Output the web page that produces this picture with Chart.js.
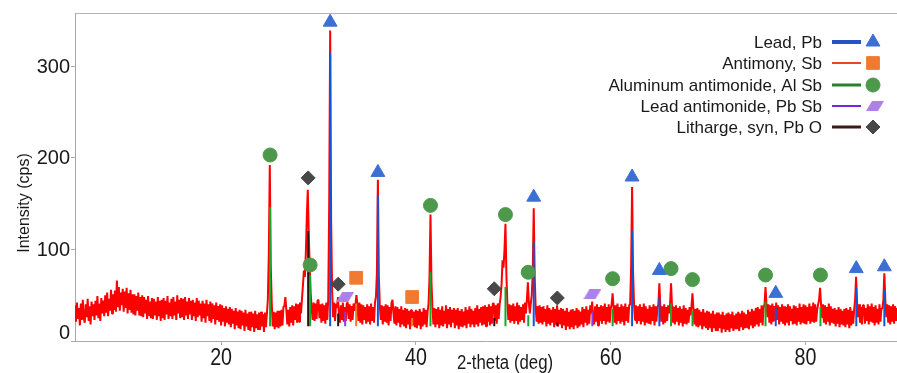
<!DOCTYPE html>
<html><head><meta charset="utf-8">
<script src="https://cdn.jsdelivr.net/npm/chart.js@4"></script>
<style>html,body{margin:0;padding:0;background:#fff;overflow:hidden}#wrap{width:897px;height:373px;position:relative}</style>
</head><body><div id="wrap"><canvas id="c" width="897" height="373"></canvas></div>
<script>
// ---- data ----
const twoThetaStart = 5.0;
const twoThetaStep = 0.1;
const intensity = [
39,21,42,24,36,17,41,23,45,25,
20,40,26,46,22,38,18,43,27,40,
23,44,28,49,25,41,22,47,30,44,
27,50,31,53,27,46,33,56,30,51,
34,55,32,66,37,59,33,53,39,57,
32,54,36,58,30,52,34,56,31,51,
29,51,28,49,33,53,28,48,27,50,
26,48,30,45,24,49,28,43,25,47,
24,46,28,43,23,48,27,44,22,45,
25,47,23,44,29,49,24,42,27,46,
24,48,28,43,23,50,30,45,25,47,
26,46,23,48,28,43,24,47,29,44,
23,45,27,42,22,47,26,44,28,41,
21,44,25,41,20,45,27,40,22,43,
20,41,24,39,18,42,23,38,21,40,
17,39,21,36,16,38,20,35,18,37,
15,35,19,33,13,36,17,32,14,34,
13,33,17,31,11,34,16,30,12,32,
11,32,15,30,10,33,14,29,12,31,
12,32,16,29,10,31,15,29,45,95,
192,82,42,16,32,13,31,15,33,14,
33,16,34,17,37,38,48,34,18,34,
16,37,20,39,17,38,23,41,20,40,
21,42,30,45,60,77,70,95,135,165,
118,80,52,36,23,42,22,41,24,44,
45,25,40,20,41,22,39,19,42,23,
45,150,339,130,55,26,42,22,41,36,
48,30,20,39,23,42,21,37,22,41,
42,24,40,21,38,23,41,33,40,50,
39,22,42,20,40,18,39,23,37,19,
40,21,38,18,41,22,37,20,42,48,
75,176,70,38,23,39,18,38,21,40,
20,39,17,37,22,42,45,30,19,38,
17,37,20,35,15,38,18,34,16,36,
14,35,18,33,13,34,33,17,32,15,
34,14,33,17,35,13,32,16,36,18,
34,15,32,40,70,138,65,36,18,36,
15,35,18,37,14,34,17,38,16,33,
19,39,14,35,18,37,15,34,20,36,
14,34,17,36,13,33,16,35,15,32,
17,37,14,34,19,38,15,35,18,33,
15,36,18,39,16,35,20,37,17,38,
18,39,16,37,21,40,17,38,19,41,
41,22,39,19,41,24,40,48,62,88,
80,100,128,70,40,23,40,20,39,22,
41,19,38,22,42,18,39,21,37,23,
40,20,42,30,45,64,42,30,41,50,
75,145,70,36,21,38,19,39,20,37,
18,38,21,35,16,39,19,36,17,34,
20,37,15,35,18,39,16,34,19,36,
14,35,17,33,12,36,16,32,13,34,
15,35,13,33,17,36,14,34,16,32,
18,37,15,35,20,38,17,34,19,39,
30,43,24,18,38,21,40,17,37,22,
39,19,38,22,41,18,37,21,40,20,
35,40,52,36,20,39,18,41,22,37,
19,40,21,38,17,41,22,37,20,39,
40,80,168,75,40,23,39,19,38,22,
40,18,37,21,41,17,38,20,35,19,
39,18,37,22,40,17,38,21,36,40,
63,38,21,38,18,40,20,37,22,39,
30,40,63,38,20,37,18,39,21,36,
17,38,20,35,16,39,19,36,18,34,
20,37,28,38,52,34,18,35,16,36,
15,34,17,32,13,35,16,31,14,33,
12,32,15,30,10,33,14,29,11,31,
11,31,14,29,9,32,13,28,10,30,
12,31,10,29,14,32,11,28,13,30,
13,32,11,30,15,33,12,31,14,29,
15,34,13,32,17,35,14,33,16,36,
18,37,16,35,20,39,17,37,40,59,
40,26,40,20,39,18,41,21,38,22,
42,23,39,18,37,21,40,19,38,17,
37,20,40,17,38,22,35,18,39,19,
38,17,36,21,41,18,37,20,40,19,
39,18,37,22,41,19,38,21,42,20,
40,21,34,40,45,58,40,26,40,20,
39,18,37,21,41,17,38,20,35,19,
36,16,34,19,37,15,35,18,33,17,
35,15,36,18,34,14,37,17,33,19,
34,45,70,42,26,40,20,37,18,39,
39,19,36,22,40,18,38,21,41,20,
37,17,39,20,35,18,40,21,36,35,
45,74,45,26,40,20,39,18,38,21,
40,19,38,22,36
];
const xTickValues = [20, 40, 60, 80];
const yTickValues = [0, 100, 200, 300];

const phaseNames = ['Lead, Pb', 'Antimony, Sb', 'Aluminum antimonide, Al Sb', 'Lead antimonide, Pb Sb', 'Litharge, syn, Pb O'];

const leadPos    = [31.20, 36.10, 52.10, 62.20, 65.0, 76.95, 85.22, 88.10];
const leadMarker = [348, 184, 157, 179, 77, 52, 79, 81];
const leadStick  = [315, 159, 108, 121, 48, 36, 58, 56];

const antimonyPos    = [33.87, 39.62];
const antimonyMarker = [69, 48];
const antimonyStick  = [41, 25];

const alsbPos    = [25.03, 29.14, 41.50, 49.20, 51.54, 60.20, 66.20, 68.40, 75.90, 81.54];
const alsbMarker = [203, 83, 148, 138, 75, 68, 79, 67, 72, 72];
const alsbStick  = [146, 72, 75, 59, 28, 35, 41, 33, 43, 37];

const pbsbPos    = [32.74, 58.12];
const pbsbMarker = [48, 51];
const pbsbStick  = [32, 32];

const pboPos    = [28.94, 32.02, 48.05, 54.52];
const pboMarker = [178, 62, 57, 47];
const pboStick  = [120, 30, 25, 20];

const stickBase = 16;

// ---- styles ----
const lineColors   = ['#2452c8', '#e8452a', '#2b7e2b', '#7a24dc', '#3a1a1a'];
const stickColors  = ['#1256d8', '#f07a20', '#14a82a', '#8a3ae0', '#2a1010'];
const markerColors = ['#3c6fd4', '#f07b30', '#4c994c', '#b080ea', '#484848'];
const legendLineWidths = [4, 2, 3, 2, 3];

function makePara(color) {
  const c = document.createElement('canvas');
  c.width = 18; c.height = 10;
  const g = c.getContext('2d');
  g.fillStyle = color;
  g.beginPath();
  g.moveTo(6, 0); g.lineTo(18, 0); g.lineTo(12, 10); g.lineTo(0, 10);
  g.closePath(); g.fill();
  return c;
}
const paraImg = makePara(markerColors[3]);
const pointStyles = ['triangle', 'rect', 'circle', paraImg, 'rectRot'];
const pointRadii = [8, 9, 7, 8, 7];

function sticks(pos, tops) {
  const out = [];
  pos.forEach((p, i) => {
    out.push({x: p, y: stickBase});
    out.push({x: p, y: tops[i]});
    out.push({x: p, y: null});
  });
  return out;
}
function markers(pos, ys) { return pos.map((p, i) => ({x: p, y: ys[i]})); }

const phases = [
  [leadPos, leadMarker, leadStick],
  [antimonyPos, antimonyMarker, antimonyStick],
  [alsbPos, alsbMarker, alsbStick],
  [pbsbPos, pbsbMarker, pbsbStick],
  [pboPos, pboMarker, pboStick]
];

const datasets = [];
datasets.push({
  label: 'pattern',
  data: intensity.map((v, i) => ({x: twoThetaStart + i * twoThetaStep, y: v})),
  borderColor: '#ff0000', borderWidth: 2, pointRadius: 0, tension: 0, order: 20,
  borderJoinStyle: 'bevel'
});
phases.forEach((ph, k) => {
  datasets.push({
    label: phaseNames[k] + ' sticks',
    data: sticks(ph[0], ph[2]),
    borderColor: stickColors[k], borderWidth: 2, pointRadius: 0, spanGaps: false, order: 10 + k
  });
});
phases.forEach((ph, k) => {
  datasets.push({
    label: phaseNames[k],
    data: markers(ph[0], ph[1]),
    showLine: false,
    pointStyle: pointStyles[k],
    pointRadius: pointRadii[k],
    pointBackgroundColor: markerColors[k],
    pointBorderColor: markerColors[k],
    pointBorderWidth: 1,
    order: 1
  });
});

const FONT = '"Liberation Sans", Arial, sans-serif';

const decor = {
  id: 'decor',
  afterDraw(chart) {
    const ctx = chart.ctx, a = chart.chartArea;
    ctx.save();
    // top border
    ctx.strokeStyle = '#b4b4b4'; ctx.lineWidth = 1;
    ctx.beginPath(); ctx.moveTo(a.left, a.top + 0.5); ctx.lineTo(a.right, a.top + 0.5); ctx.stroke();
    ctx.fillStyle = '#1a1a1a';
    // y tick labels (zero label lifted as in the original)
    const ysc = chart.scales.y;
    ctx.font = '20px ' + FONT;
    ctx.textAlign = 'right'; ctx.textBaseline = 'middle';
    yTickValues.forEach(v => {
      ctx.fillText(String(v), a.left - 5, ysc.getPixelForValue(v) + 1 - (v === 0 ? 9 : 0));
    });
    ctx.textAlign = 'center';
    // y title
    ctx.font = '16px ' + FONT;
    ctx.save();
    ctx.translate(25, a.top + 190);
    ctx.rotate(-Math.PI / 2);
    ctx.fillText('Intensity (cps)', 0, 0);
    ctx.restore();
    // x tick labels (condensed)
    const xs = chart.scales.x;
    ctx.font = '24px ' + FONT;
    xTickValues.forEach(v => {
      ctx.save();
      ctx.translate(xs.getPixelForValue(v), a.bottom + 17);
      ctx.scale(0.82, 1);
      ctx.fillText(String(v), 0, 0);
      ctx.restore();
    });
    // x title (condensed)
    ctx.font = '20px ' + FONT;
    ctx.save();
    ctx.translate((a.left + a.right) / 2 + 19, a.bottom + 22);
    ctx.scale(0.84, 1);
    ctx.fillText('2-theta (deg)', 0, 0);
    ctx.restore();
    // legend
    const ys = [29, 50, 72, 93, 114];
    ctx.font = '17px ' + FONT;
    ctx.textAlign = 'right';
    phaseNames.forEach((name, k) => {
      const y = a.top + ys[k];
      ctx.fillStyle = '#1a1a1a';
      ctx.fillText(name, a.right - 75, y + 1);
      ctx.strokeStyle = lineColors[k]; ctx.lineWidth = legendLineWidths[k];
      ctx.beginPath(); ctx.moveTo(a.right - 65, y); ctx.lineTo(a.right - 36, y); ctx.stroke();
      ctx.fillStyle = markerColors[k]; ctx.strokeStyle = markerColors[k]; ctx.lineWidth = 1;
      Chart.helpers.drawPoint(ctx, {
        pointStyle: pointStyles[k], radius: pointRadii[k], rotation: 0, borderWidth: 1
      }, a.right - 24 + (k === 3 ? 2 : 0), y);
    });
    ctx.restore();
  }
};

new Chart(document.getElementById('c').getContext('2d'), {
  type: 'line',
  data: {datasets},
  options: {
    responsive: false, animation: false, devicePixelRatio: 1,
    layout: {autoPadding: false, padding: {top: 13, right: 0, left: 0, bottom: 0}},
    plugins: {legend: {display: false}, tooltip: {enabled: false}},
    scales: {
      x: {
        type: 'linear', min: 5, max: 89.4,
        afterBuildTicks: s => { s.ticks = xTickValues.map(v => ({value: v})); },
        afterFit: s => { s.height = 32; },
        grid: {display: true, drawOnChartArea: false, drawTicks: true, tickLength: 4, color: '#a8a8a8'},
        border: {display: true, color: '#a8a8a8', width: 1},
        ticks: {font: {family: FONT, size: 20}, color: 'rgba(0,0,0,0)', padding: 1, maxRotation: 0, autoSkip: false}
      },
      y: {
        type: 'linear', min: 0, max: 358,
        afterBuildTicks: s => { s.ticks = yTickValues.map(v => ({value: v})); },
        afterFit: s => { s.width = 75; },
        grid: {display: true, drawOnChartArea: false, drawTicks: true, tickLength: 4, color: '#a8a8a8'},
        border: {display: true, color: '#a8a8a8', width: 1},
        ticks: {font: {family: FONT, size: 20}, color: 'rgba(0,0,0,0)', padding: 1}
      }
    }
  },
  plugins: [decor]
});
</script>
</body></html>
